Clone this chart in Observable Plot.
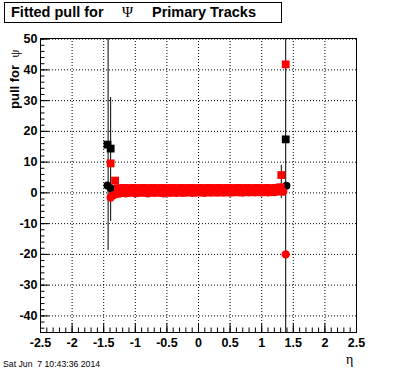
<!DOCTYPE html>
<html><head><meta charset="utf-8">
<script src="https://cdn.jsdelivr.net/npm/d3@7"></script>
<script src="https://cdn.jsdelivr.net/npm/@observablehq/plot@0.6"></script>
<style>
body{margin:0;background:#fff;}
#wrap{position:relative;width:396px;height:372px;overflow:hidden;font-family:"Liberation Sans",Arial,sans-serif;}
#title{position:absolute;left:4px;top:2px;width:278px;height:21px;border:1px solid #000;background:#fff;box-sizing:border-box;}
#title span{position:absolute;top:0;line-height:19px;white-space:pre;font-weight:bold;font-size:14.5px;}
#title span.sym{font-family:"Liberation Serif","DejaVu Serif",serif;font-weight:normal;font-size:15px;}
.sym{font-family:"Liberation Serif","DejaVu Serif",serif;font-weight:normal;}
#ylab{position:absolute;left:6px;top:50px;width:17px;height:150px;writing-mode:vertical-rl;transform:rotate(180deg);text-align:end;font-weight:bold;font-size:13px;line-height:17px;white-space:pre;}
#xlab{position:absolute;left:346px;top:352px;font-family:"Liberation Serif",serif;font-size:14px;}
#date{position:absolute;left:3px;top:359px;font-size:8.7px;white-space:pre;}
</style></head>
<body><div id="wrap"></div>
<script>
// ---- tick labels ----
const xMajor = [-2.5,-2,-1.5,-1,-0.5,0,0.5,1,1.5,2,2.5];
const xLabels = ["-2.5","-2","-1.5","-1","-0.5","0","0.5","1","1.5","2","2.5"];
const yMajor = [-40,-30,-20,-10,0,10,20,30,40,50];
const yLabels = ["-40","-30","-20","-10","0","10","20","30","40","50"];

// ---- data ----
// black squares
const blackSqEta = [-1.44,-1.39,1.38];
const blackSqY   = [15.7,14.4,17.4];
// black circles
const blackCiEta = [-1.44,-1.39,1.39];
const blackCiY   = [2.4,1.5,2.3];
// red squares
const redSqEta = [-1.39,-1.32,-1.275,-1.225,-1.175,-1.125,-1.075,-1.025,-0.975,-0.925,-0.875,-0.825,-0.775,-0.725,-0.675,-0.625,-0.575,-0.525,-0.475,-0.425,-0.375,-0.325,-0.275,-0.225,-0.175,-0.125,-0.075,-0.025,0.025,0.075,0.125,0.175,0.225,0.275,0.325,0.375,0.425,0.475,0.525,0.575,0.625,0.675,0.725,0.775,0.825,0.875,0.925,0.975,1.025,1.075,1.125,1.175,1.225,1.275,1.30,1.31,1.38];
const redSqY   = [9.6,4.0,1.5,1.5,1.6,1.5,1.5,1.6,1.5,1.5,1.6,1.5,1.5,1.6,1.5,1.5,1.6,1.5,1.5,1.6,1.5,1.5,1.6,1.5,1.5,1.6,1.5,1.5,1.6,1.5,1.5,1.6,1.5,1.5,1.6,1.5,1.5,1.6,1.5,1.5,1.6,1.5,1.5,1.6,1.5,1.5,1.6,1.5,1.5,1.6,1.5,1.5,1.6,1.7,1.8,5.8,41.8];
// red circles
const redCiEta = [-1.39,-1.35,-1.30,-1.25,-1.20,-1.15,-1.10,-1.05,-1.00,-0.95,-0.90,-0.85,-0.80,-0.75,-0.70,-0.65,-0.60,-0.55,-0.50,-0.45,-0.40,-0.35,-0.30,-0.25,-0.20,-0.15,-0.10,-0.05,0.00,0.05,0.10,0.15,0.20,0.25,0.30,0.35,0.40,0.45,0.50,0.55,0.60,0.65,0.70,0.75,0.80,0.85,0.90,0.95,1.00,1.05,1.10,1.15,1.20,1.25,1.30,1.34,1.38];
const redCiY   = [-1.5,-0.8,-0.4,-0.2,0.0,-0.1,0.0,0.1,-0.1,0.0,0.1,0.0,-0.1,0.1,0.0,0.1,0.0,-0.1,0.1,0.0,0.1,0.0,0.1,0.0,0.1,0.2,0.0,0.1,0.2,0.1,0.0,0.2,0.1,0.2,0.1,0.2,0.1,0.2,0.1,0.2,0.3,0.2,0.1,0.3,0.2,0.3,0.2,0.3,0.2,0.3,0.2,0.3,0.3,0.4,0.5,0.4,-20.0];
// error bars (eta, low, high)
const errEta = [-1.43,-1.39,1.31,1.38];
const errLo  = [-18.7,-9.3,-1.8,-60];
const errHi  = [60,31.0,9.0,60];

const toRows = (xs, ys) => xs.map((x,i)=>({x, y: ys[i]}));
const errRows = errEta.map((x,i)=>({x, y1: errLo[i], y2: errHi[i]}));

const xMinor = d3.range(-2.5, 2.5001, 0.1).map(v=>+v.toFixed(2));
const yMinor = d3.range(-44, 50.001, 2);
const H = 372, W = 396, mT = 38, mB = 40, mL = 40, mR = 40;
const ph = H - mT - mB, pw = W - mL - mR;

const chart = Plot.plot({
  width: W, height: H,
  marginTop: mT, marginBottom: mB, marginLeft: mL, marginRight: mR,
  style: {fontFamily: "Liberation Sans, Arial, sans-serif", background: "white", color: "black", overflow: "visible"},
  x: {domain: [-2.5, 2.5]},
  y: {domain: [-45.4, 50.2]},
  marks: [
    Plot.gridX(xMajor, {stroke: "black", strokeOpacity: 1, strokeDasharray: "1,2"}),
    Plot.gridY(yMajor, {stroke: "black", strokeOpacity: 1, strokeDasharray: "1,2"}),
    Plot.tickX(xMajor, {x: d=>d, insetTop: ph - 9, stroke: "black"}),
    Plot.tickX(xMinor, {x: d=>d, insetTop: ph - 4.5, stroke: "black"}),
    Plot.tickY(yMajor, {y: d=>d, insetRight: pw - 9, stroke: "black"}),
    Plot.tickY(yMinor, {y: d=>d, insetRight: pw - 4.5, stroke: "black"}),
    Plot.axisX(xMajor, {tickSize: 0, tickPadding: 6, tickFormat: (d,i)=>xLabels[i], fontSize: 12.5, fontWeight: "bold", label: null}),
    Plot.axisY(yMajor, {tickSize: 0, tickPadding: 3, tickFormat: (d,i)=>yLabels[i], fontSize: 12.5, fontWeight: "bold", label: null}),
    Plot.ruleX(errRows, {x: "x", y1: "y1", y2: "y2", stroke: "black", clip: true}),
    Plot.dot(toRows(blackCiEta, blackCiY), {x: "x", y: "y", r: 4, fill: "black", symbol: "circle"}),
    Plot.dot(toRows(blackSqEta, blackSqY), {x: "x", y: "y", r: 4.4, fill: "black", symbol: "square"}),
    Plot.dot(toRows(redCiEta, redCiY), {x: "x", y: "y", r: 4.2, fill: "red", symbol: "circle"}),
    Plot.dot(toRows(redSqEta, redSqY), {x: "x", y: "y", r: 4.4, fill: "red", symbol: "square"}),
    Plot.frame({stroke: "black"})
  ]
});
const wrap = document.getElementById("wrap");
wrap.appendChild(chart);
wrap.insertAdjacentHTML("beforeend",
  '<div id="title"><span style="left:6px">Fitted pull for</span><span class="sym" style="left:117px">Ψ</span><span style="left:147px">Primary Tracks</span></div>' +
  '<div id="ylab">pull for  <span class="sym">ψ</span></div>' +
  '<div id="xlab">η</div>' +
  '<div id="date">Sat Jun  7 10:43:36 2014</div>');
</script>
</body></html>
